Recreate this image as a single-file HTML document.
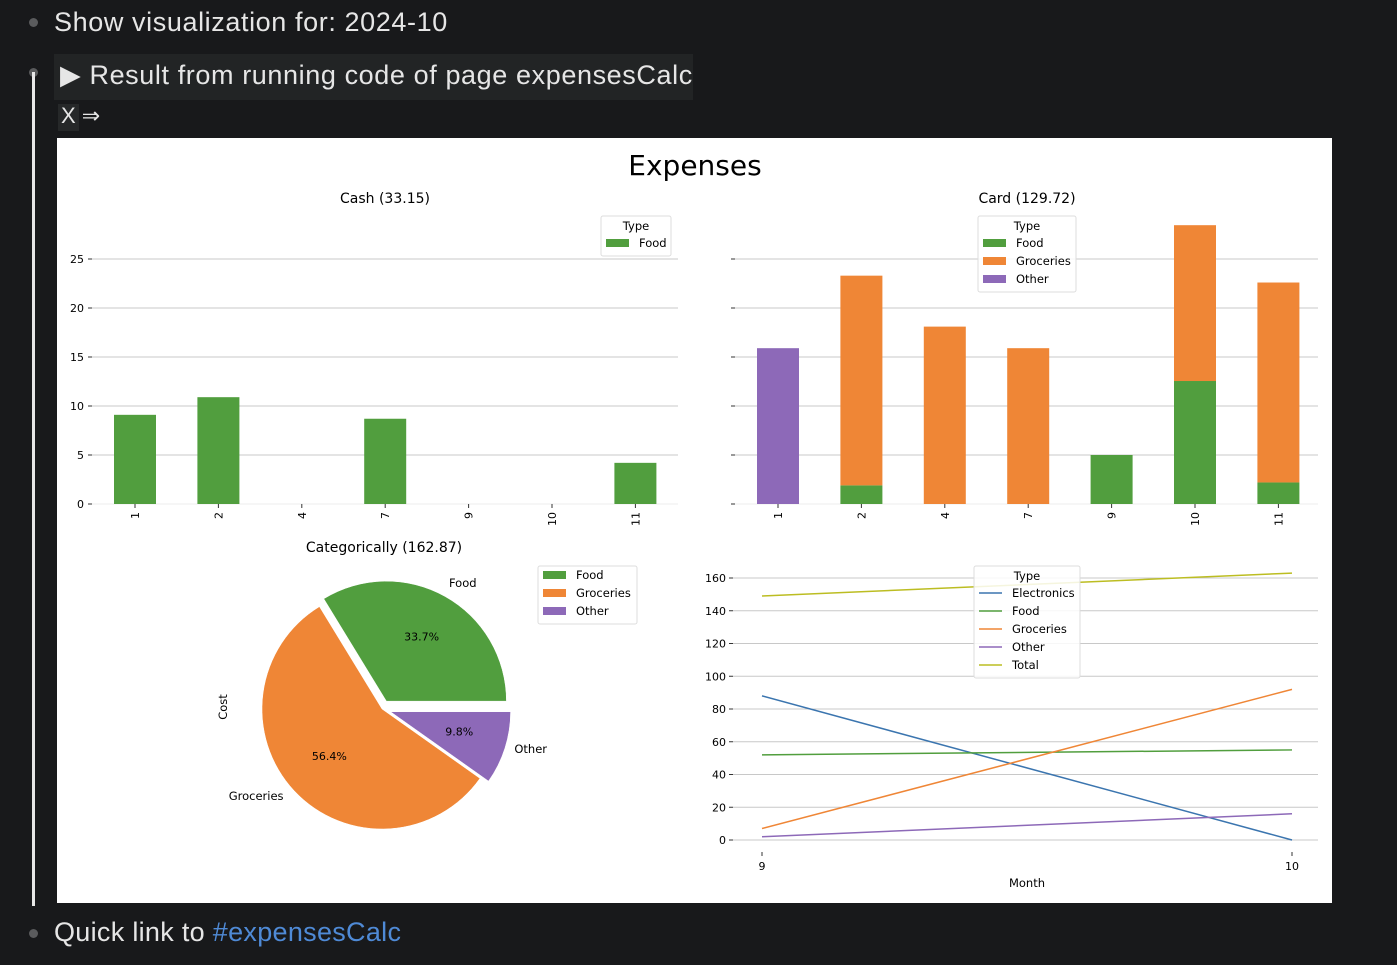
<!DOCTYPE html>
<html><head><meta charset="utf-8"><style>
html,body{margin:0;padding:0;background:#18191b;width:1397px;height:965px;overflow:hidden;font-family:"Liberation Sans","DejaVu Sans",sans-serif}
.t{position:absolute;color:#e6e6e6;font-size:27px;white-space:nowrap;letter-spacing:0.6px}
.dot{position:absolute;width:9px;height:9px;border-radius:50%;background:#5a5b5d}
svg text{font-family:"DejaVu Sans","Liberation Sans",sans-serif}
</style></head><body>
<div class="dot" style="left:29px;top:18px"></div>
<div class="t" style="left:54px;top:7px">Show visualization for: 2024-10</div>
<div class="dot" style="left:29px;top:68px"></div>
<div style="position:absolute;left:32px;top:72px;width:3px;height:834px;background:#e8e8e8"></div>
<div style="position:absolute;left:54px;top:54px;width:639px;height:46px;background:#222425"></div>
<div class="t" style="left:60px;top:60px">&#9654; Result from running code of page expensesCalc</div>
<div style="position:absolute;left:58px;top:104px;width:21px;height:27px;background:#262829"></div>
<div class="t" style="left:61px;top:103px;font-size:22px;letter-spacing:0">X &#8658;</div>
<div class="dot" style="left:29px;top:929px"></div>
<div class="t" style="left:54px;top:917px;letter-spacing:0.3px">Quick link to <span style="color:#4f8ad6">#expensesCalc</span></div>

<svg id="chart" width="1397" height="965" style="position:absolute;left:0;top:0">
<rect x="57" y="138" width="1275" height="765" fill="#fff"/>
<text x="695" y="175" font-size="28" text-anchor="middle">Expenses</text>
<text x="385" y="203" font-size="14" text-anchor="middle">Cash (33.15)</text>
<text x="1027" y="203" font-size="14" text-anchor="middle">Card (129.72)</text>
<text x="384" y="552" font-size="14" text-anchor="middle">Categorically (162.87)</text>
<g id="g"></g>
</svg>
<script>
const months=["1","2","4","7","9","10","11"];
const cashFood=[9.1,10.9,0,8.7,0,0,4.2];
const cardFood=[0,1.9,0,0,5.0,12.55,2.2];
const cardGroceries=[0,21.4,18.1,15.9,0,15.9,20.4];
const cardOther=[15.9,0,0,0,0,0,0];
const barTicks=[0,5,10,15,20,25];
const pieLabels=["Food","Groceries","Other"];
const pieValues=[33.7,56.4,9.8];
const lineMonths=[9,10];
const lineTypes=["Electronics","Food","Groceries","Other","Total"];
const electronics=[88,0];
const food=[52,55];
const groceries=[7,92];
const other=[2,16];
const total=[149,163];
const lineTicks=[0,20,40,60,80,100,120,140,160];

const C={Food:"#519e3e",Groceries:"#ef8636",Other:"#8d69b8",Electronics:"#3b75af",Total:"#bcbd22"};
const NS="http://www.w3.org/2000/svg";
const G=document.getElementById('g');
function mk(tag,at,txt){const e=document.createElementNS(NS,tag);for(const k in at)e.setAttribute(k,at[k]);if(txt!==undefined)e.textContent=txt;G.appendChild(e);return e;}

function barChart(x0,x1,labelsOn,series,prefix){
  const y=v=>504-v*9.8;
  const step=83.4, xc=i=>x0+43+i*step;
  barTicks.forEach(t=>{
    const l=mk('line',{x1:x0,x2:x1,y1:y(t),y2:y(t),stroke:t===0?"#eee":"#c8c8c8","stroke-width":1});
    
    
    const tk=mk('line',{x1:x0-4,x2:x0,y1:y(t),y2:y(t),stroke:"#333"});
    
    
    if(labelsOn){const tx=mk('text',{x:x0-8,y:y(t)+4,"font-size":11,"text-anchor":"end"},String(t));
      
      }
  });
  months.forEach((m,i)=>{
    let base=0;
    series.forEach(([name,vals])=>{
      const v=vals[i]; if(v<=0)return;
      const r=mk('rect',{x:xc(i)-21,y:y(base+v),width:42,height:v*9.8,fill:C[name]});
      
      
      base+=v;
    });
    const tk=mk('line',{x1:xc(i),x2:xc(i),y1:504,y2:508,stroke:"#333"});
    
    
    const tx=mk('text',{x:0,y:0,"font-size":11,"text-anchor":"end",transform:`translate(${xc(i)+4},512) rotate(-90)`},m);
    
    
  });
}
barChart(92,678,true,[["Food",cashFood]],"cash");
barChart(735,1318,false,[["Food",cardFood],["Groceries",cardGroceries],["Other",cardOther]],"card");

function legend(x,y,w,title,items,kind,prefix){
  const h=(title?18:0)+items.length*18+4;
  const b=mk('rect',{x:x,y:y,width:w,height:h,rx:2,fill:"#fff","fill-opacity":0.85,stroke:"#ddd"});
  
  
  let yy=y+(title?14:-4);
  if(title){const t=mk('text',{x:x+w/2,y:y+14,"font-size":11.5,"text-anchor":"middle"},title);
    
    }
  items.forEach((it,i)=>{
    const cy=yy+13+i*18;
    if(kind==='patch'){const p=mk('rect',{x:x+5,y:cy-4,width:23,height:8,fill:C[it]});
      
      }
    else{const p=mk('line',{x1:x+5,x2:x+28,y1:cy,y2:cy,stroke:C[it],"stroke-width":1.5});
      
      }
    const t=mk('text',{x:x+38,y:cy+4,"font-size":11.5},it);
    
    
  });
}
legend(601,216,70,"Type",["Food"],'patch',"cash");
legend(978,216,98,"Type",["Food","Groceries","Other"],'patch',"card");

// pie
(function(){
  const cx=382,cy=709,r=120,ex=9;
  const sum=pieValues.reduce((a,b)=>a+b,0);
  const explode=[ex,0,ex];
  let a=0;
  pieValues.forEach((v,i)=>{
    const a0=a, a1=a+v/sum*2*Math.PI; a=a1;
    const mid=(a0+a1)/2;
    const ox=cx+explode[i]*Math.cos(mid), oy=cy-explode[i]*Math.sin(mid);
    const p0=[ox+r*Math.cos(a0),oy-r*Math.sin(a0)], p1=[ox+r*Math.cos(a1),oy-r*Math.sin(a1)];
    const large=(a1-a0)>Math.PI?1:0;
    const path=mk('path',{d:`M${ox},${oy} L${p0[0]},${p0[1]} A${r},${r} 0 ${large} 0 ${p1[0]},${p1[1]} Z`,fill:C[pieLabels[i]],stroke:"#fff","stroke-width":0.5});
    
    
    const pt=mk('text',{x:ox+0.6*r*Math.cos(mid),y:oy-0.6*r*Math.sin(mid)+2,"font-size":11,"text-anchor":"middle"},v.toFixed(1)+"%");
    
    
    const lx=ox+1.1*r*Math.cos(mid), ly=oy-1.1*r*Math.sin(mid);
    const lt=mk('text',{x:lx-2,y:ly+1,"font-size":11.5,"text-anchor":Math.cos(mid)>=0?"start":"end"},pieLabels[i]);
    
    
  });
  const ct=mk('text',{x:0,y:0,"font-size":11.5,"text-anchor":"middle",transform:"translate(227,707) rotate(-90)"},"Cost");
  
  
})();
legend(538,566,99,"",pieLabels,'patch',"pie");

// line chart
(function(){
  const y=v=>840-v*1.6375, x=m=>762+(m-9)*530;
  lineTicks.forEach(t=>{
    const l=mk('line',{x1:733,x2:1318,y1:y(t),y2:y(t),stroke:"#c8c8c8"});
    
    
    const tk=mk('line',{x1:729,x2:733,y1:y(t),y2:y(t),stroke:"#333"});
    
    
    const tx=mk('text',{x:726,y:y(t)+4,"font-size":11,"text-anchor":"end"},String(t));
    
    
  });
  lineMonths.forEach(m=>{
    const tk=mk('line',{x1:x(m),x2:x(m),y1:852,y2:856,stroke:"#333"});
    
    
    const tx=mk('text',{x:x(m),y:870,"font-size":11,"text-anchor":"middle"},String(m));
    
    
  });
  const xl=mk('text',{x:1027,y:887,"font-size":11.5,"text-anchor":"middle"},"Month");
  
  
  const data=[electronics,food,groceries,other,total];
  data.forEach((vals,i)=>{
    const pts=vals.map((v,j)=>x(lineMonths[j])+","+y(v)).join(" ");
    const pl=mk('polyline',{points:pts,fill:"none",stroke:C[lineTypes[i]],"stroke-width":1.5});
    
    
  });
})();
legend(974,566,106,"Type",lineTypes,'line',"line");
</script>
</body></html>
